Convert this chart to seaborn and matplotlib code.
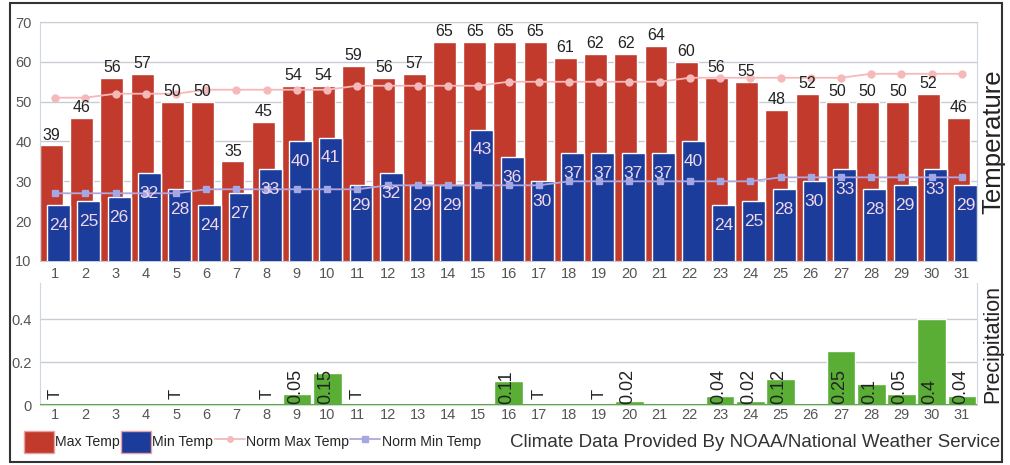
import numpy as np
import seaborn as sns
import matplotlib.pyplot as plt
from matplotlib.patches import Rectangle, Patch
from matplotlib.lines import Line2D

# dados do mes
days = list(range(1, 32))
max_temp = [39, 46, 56, 57, 50, 50, 35, 45, 54, 54, 59, 56, 57, 65, 65, 65,
            65, 61, 62, 62, 64, 60, 56, 55, 48, 52, 50, 50, 50, 52, 46]
min_temp = [24, 25, 26, 32, 28, 24, 27, 33, 40, 41, 29, 32, 29, 29, 43, 36,
            30, 37, 37, 37, 37, 40, 24, 25, 28, 30, 33, 28, 29, 33, 29]
norm_max = [51, 51, 52, 52, 52, 53, 53, 53, 53, 53, 54, 54, 54, 54, 54, 55,
            55, 55, 55, 55, 55, 56, 56, 56, 56, 56, 56, 57, 57, 57, 57]
norm_min = [27, 27, 27, 27, 27, 28, 28, 28, 28, 28, 28, 29, 29, 29, 29, 29,
            29, 30, 30, 30, 30, 30, 30, 30, 31, 31, 31, 31, 31, 31, 31]
precip = [0, 0, 0, 0, 0, 0, 0, 0, 0.05, 0.15, 0, 0, 0, 0, 0, 0.11,
          0, 0, 0, 0.02, 0, 0, 0.04, 0.02, 0.12, 0, 0.25, 0.1, 0.05, 0.4, 0.04]
precip_text = ['T', '', '', '', 'T', '', '', 'T', '0.05', '0.15', 'T', '', '', '', '', '0.11',
               'T', '', 'T', '0.02', '', '', '0.04', '0.02', '0.12', '', '0.25', '0.1', '0.05', '0.4', '0.04']

# cores
RED = '#c23a2c'
BLUE = '#1b3c9b'
GREEN = '#5aad35'
NMAX = '#f6b9b9'
NMIN = '#b3a6dd'
GRID = '#c9ccd4'
TICK = '#555555'

sns.set_style('white')
plt.rcParams['font.family'] = ['Liberation Sans', 'DejaVu Sans']

fig = plt.figure(figsize=(10.1, 4.65), dpi=100)
ax = fig.add_axes([40 / 1010, 1 - 261 / 465, 937 / 1010, 239 / 465])
ax2 = fig.add_axes([40 / 1010, 1 - 405 / 465, 937 / 1010, 122.5 / 465])

# Temperatura
sns.barplot(x=days, y=max_temp, color=RED, width=0.76, saturation=1, ax=ax, zorder=2)
for p in ax.containers[0]:
    p.set_x(p.get_x() - 0.12)
sns.barplot(x=days, y=min_temp, color=BLUE, width=0.76, saturation=1, ax=ax, zorder=3)
for p in ax.containers[1]:
    p.set_x(p.get_x() + 0.12)

sns.pointplot(x=days, y=norm_max, color=NMAX, markers='o', errorbar=None,
              markersize=5, linewidth=1.3, ax=ax)
sns.pointplot(x=days, y=norm_min, color=NMIN, markers='s', errorbar=None,
              markersize=5, linewidth=1.3, ax=ax)
for ln in ax.lines:
    ln.set_zorder(4)
ax.lines[-1].set_markerfacecolor('#a3a8e4')
ax.lines[-1].set_markeredgecolor('#a3a8e4')

ax.bar_label(ax.containers[0], padding=2, fontsize=11.5, color='#222222', zorder=5)
ax.bar_label(ax.containers[1], padding=-20, fontsize=12.5, color='#f3d6ea', zorder=5)

ax.set_ylim(10, 70)
ax.set_xlim(-0.5, 30.5)
ax.set_yticks(range(10, 71, 10))
ax.grid(axis='y', color=GRID, lw=1, zorder=0)
ax.set_axisbelow(True)
ax.tick_params(axis='both', length=0, labelsize=10.5, labelcolor=TICK, pad=6)
ax.tick_params(axis='x', pad=4)
for s in ['left', 'right']:
    ax.spines[s].set_color('#cfd6e4')
ax.spines['top'].set_color(GRID)
ax.spines['bottom'].set_color(GRID)
ax.yaxis.set_label_position('right')
ax.set_ylabel('Temperature', fontsize=18.5, color='#222222', labelpad=3)

# Precipitacao
sns.barplot(x=days, y=precip, color=GREEN, width=0.95, saturation=1, ax=ax2, zorder=2)
ax2.axhline(0, color=GREEN, lw=1.5, zorder=3)
for i, t in enumerate(precip_text):
    if t == 'T':
        ax2.text(i, 0.03, t, rotation=90, ha='center', va='bottom', fontsize=12, color='#222222', zorder=5)
    elif t:
        ax2.text(i - 0.05, 0.004, t, rotation=90, ha='center', va='bottom', fontsize=13, color='#222222', zorder=5)
ax2.set_ylim(0, 0.57)
ax2.set_xlim(-0.5, 30.5)
ax2.set_yticks([0, 0.2, 0.4])
ax2.set_yticklabels(['0', '0.2', '0.4'])
ax2.grid(axis='y', color=GRID, lw=1, zorder=0)
ax2.set_axisbelow(True)
ax2.tick_params(axis='both', length=0, labelsize=10.5, labelcolor=TICK, pad=6)
ax2.tick_params(axis='x', pad=2)
ax2.spines['top'].set_visible(False)
for s in ['left', 'right', 'bottom']:
    ax2.spines[s].set_color('#cfd6e4')
ax2.yaxis.set_label_position('right')
ax2.set_ylabel('Precipitation', fontsize=15.5, color='#222222', labelpad=4)

# Legenda
handles = [Patch(facecolor=RED, edgecolor='#e9a0a0'),
           Patch(facecolor=BLUE, edgecolor='#e9a0a0'),
           Line2D([], [], color=NMAX, marker='o', markersize=4, lw=1.3),
           Line2D([], [], color=NMIN, marker='s', markersize=4, lw=1.3,
                  markerfacecolor='#a3a8e4', markeredgecolor='#a3a8e4')]
labels = ['Max Temp', 'Min Temp', 'Norm Max Temp', 'Norm Min Temp']
fig.legend(handles, labels, loc='center left', bbox_to_anchor=(24 / 1010, 1 - 442 / 465),
           ncol=4, frameon=False, fontsize=10.2, handlelength=2.1, handleheight=2.0,
           handletextpad=0.1, columnspacing=0.1, borderpad=0, borderaxespad=0)
fig.text(1000 / 1010, 1 - 442 / 465, 'Climate Data Provided By NOAA/National Weather Service',
         ha='right', va='center', fontsize=13.5, color='#333333')

# moldura
fig.patches.append(Rectangle((10 / 1010, 1 - 462 / 465), 992 / 1010, 459 / 465,
                             transform=fig.transFigure, fill=False, edgecolor='#333333', lw=1.5))

fig.savefig('out.png', dpi=100)
